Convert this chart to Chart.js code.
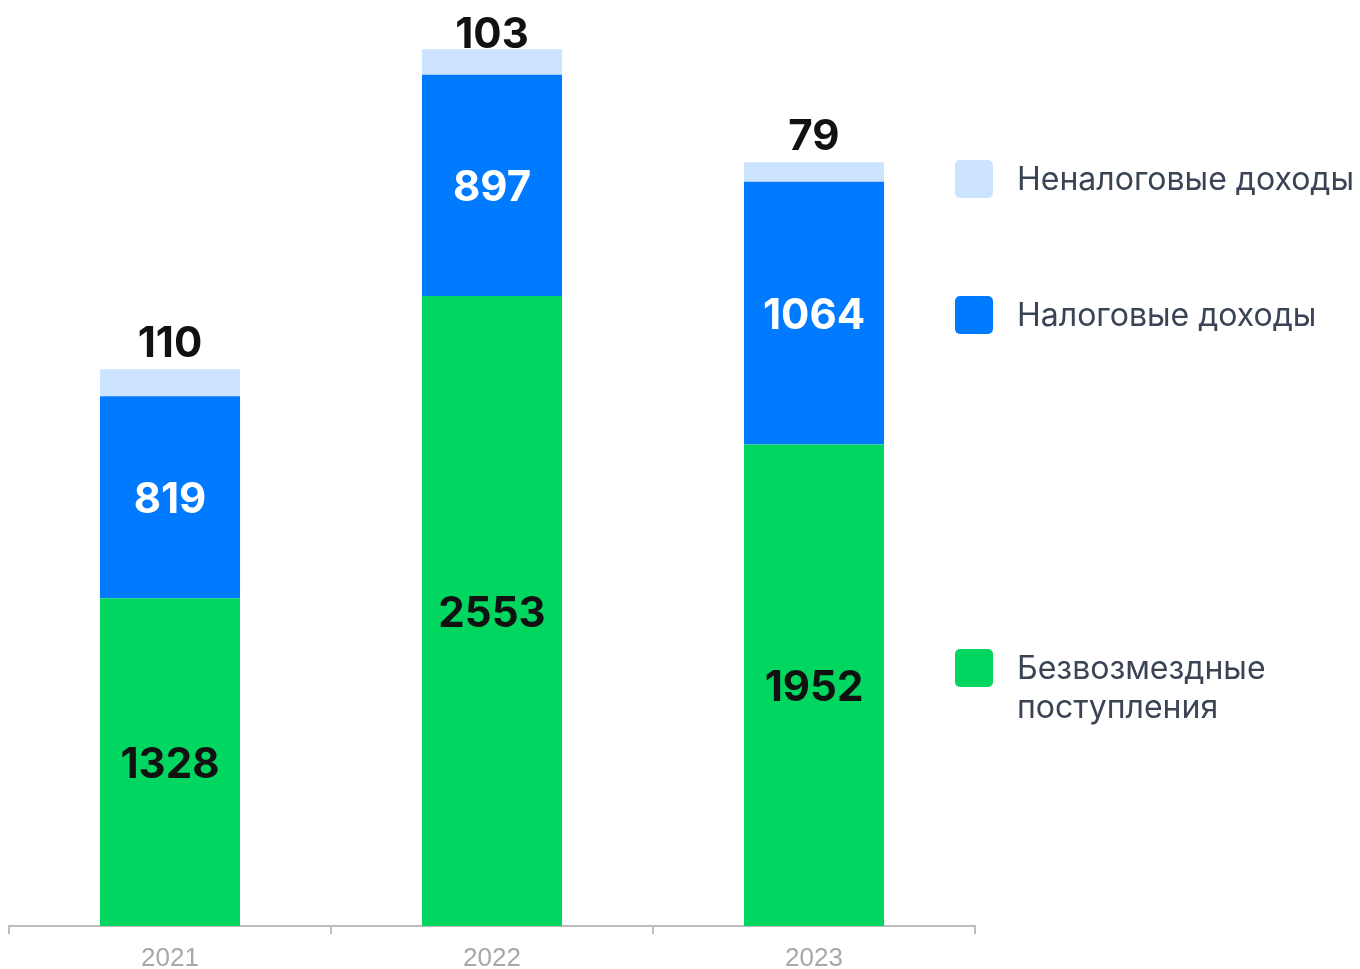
<!DOCTYPE html>
<html>
<head>
<meta charset="utf-8">
<script src="https://cdn.jsdelivr.net/npm/chart.js@4"></script>
<style>
  html, body { margin: 0; padding: 0; background: #fff; }
  #wrap { width: 1360px; height: 969px; position: relative; }
</style>
</head>
<body>
<div id="wrap"><canvas id="budget"></canvas></div>
<script>
// data
const years = ['2021', '2022', '2023'];
const grants = [1328, 2553, 1952];     // Безвозмездные поступления
const taxIncome = [819, 897, 1064];     // Налоговые доходы
const nonTaxIncome = [110, 103, 79];    // Неналоговые доходы

const GREEN = '#00d660';
const BLUE = '#007aff';
const LIGHT = '#cce4ff';

// legend rows on the right (top to bottom)
const legendRows = [
  { lines: ['Неналоговые доходы'], color: LIGHT, y: 179 },
  { lines: ['Налоговые доходы'], color: BLUE, y: 315 },
  { lines: ['Безвозмездные', 'поступления'], color: GREEN, y: 668 }
];

function roundRect(ctx, x, y, w, h, r) {
  ctx.beginPath();
  ctx.moveTo(x + r, y);
  ctx.arcTo(x + w, y, x + w, y + h, r);
  ctx.arcTo(x + w, y + h, x, y + h, r);
  ctx.arcTo(x, y + h, x, y, r);
  ctx.arcTo(x, y, x + w, y, r);
  ctx.closePath();
}

const valueLabels = {
  id: 'valueLabels',
  afterDatasetsDraw(chart) {
    const ctx = chart.ctx;
    ctx.save();
    ctx.font = 'bold 42px Inter';
    ctx.textAlign = 'center';
    chart.data.datasets.forEach((ds, di) => {
      const meta = chart.getDatasetMeta(di);
      meta.data.forEach((bar, i) => {
        const v = ds.data[i];
        if (di === 2) {
          // on top of the stack
          ctx.fillStyle = '#111';
          ctx.textBaseline = 'alphabetic';
          ctx.fillText(v, bar.x, Math.max(bar.y - 12, 48));
        } else {
          ctx.fillStyle = di === 1 ? '#fff' : '#111';
          ctx.textBaseline = 'middle';
          ctx.fillText(v, bar.x, (bar.y + bar.base) / 2 + 3);
        }
      });
    });
    ctx.restore();
  }
};

const sideLegend = {
  id: 'sideLegend',
  afterDraw(chart) {
    const ctx = chart.ctx;
    ctx.save();
    ctx.font = '32px Inter';
    ctx.textBaseline = 'middle';
    ctx.textAlign = 'left';
    legendRows.forEach(row => {
      ctx.fillStyle = row.color;
      roundRect(ctx, 955, row.y - 19, 38, 38, 5);
      ctx.fill();
      ctx.fillStyle = '#3a4454';
      row.lines.forEach((t, k) => ctx.fillText(t, 1017, row.y + 1 + k * 39));
    });
    ctx.restore();
  }
};

new Chart(document.getElementById('budget'), {
  type: 'bar',
  data: {
    labels: years,
    datasets: [
      { label: 'Безвозмездные поступления', data: grants, backgroundColor: GREEN },
      { label: 'Налоговые доходы', data: taxIncome, backgroundColor: BLUE },
      { label: 'Неналоговые доходы', data: nonTaxIncome, backgroundColor: LIGHT }
    ]
  },
  options: {
    responsive: true,
    maintainAspectRatio: false,
    animation: false,
    layout: { padding: { left: 9, right: 385, top: 39, bottom: 0 } },
    plugins: { legend: { display: false }, tooltip: { enabled: false } },
    datasets: { bar: { categoryPercentage: 1, barPercentage: 0.435, borderWidth: 0 } },
    scales: {
      x: {
        stacked: true,
        grid: { display: true, drawOnChartArea: false, tickLength: 8, color: '#bdbdbd', lineWidth: 2 },
        border: { display: true, color: '#bdbdbd', width: 2 },
        ticks: { color: '#a8a8a8', font: { family: 'Liberation Sans', size: 26 }, padding: 9 },
        afterFit: s => { s.height = 43; }
      },
      y: { stacked: true, display: false, min: 0, max: 3595 }
    }
  },
  plugins: [valueLabels, sideLegend]
});
</script>
</body>
</html>
